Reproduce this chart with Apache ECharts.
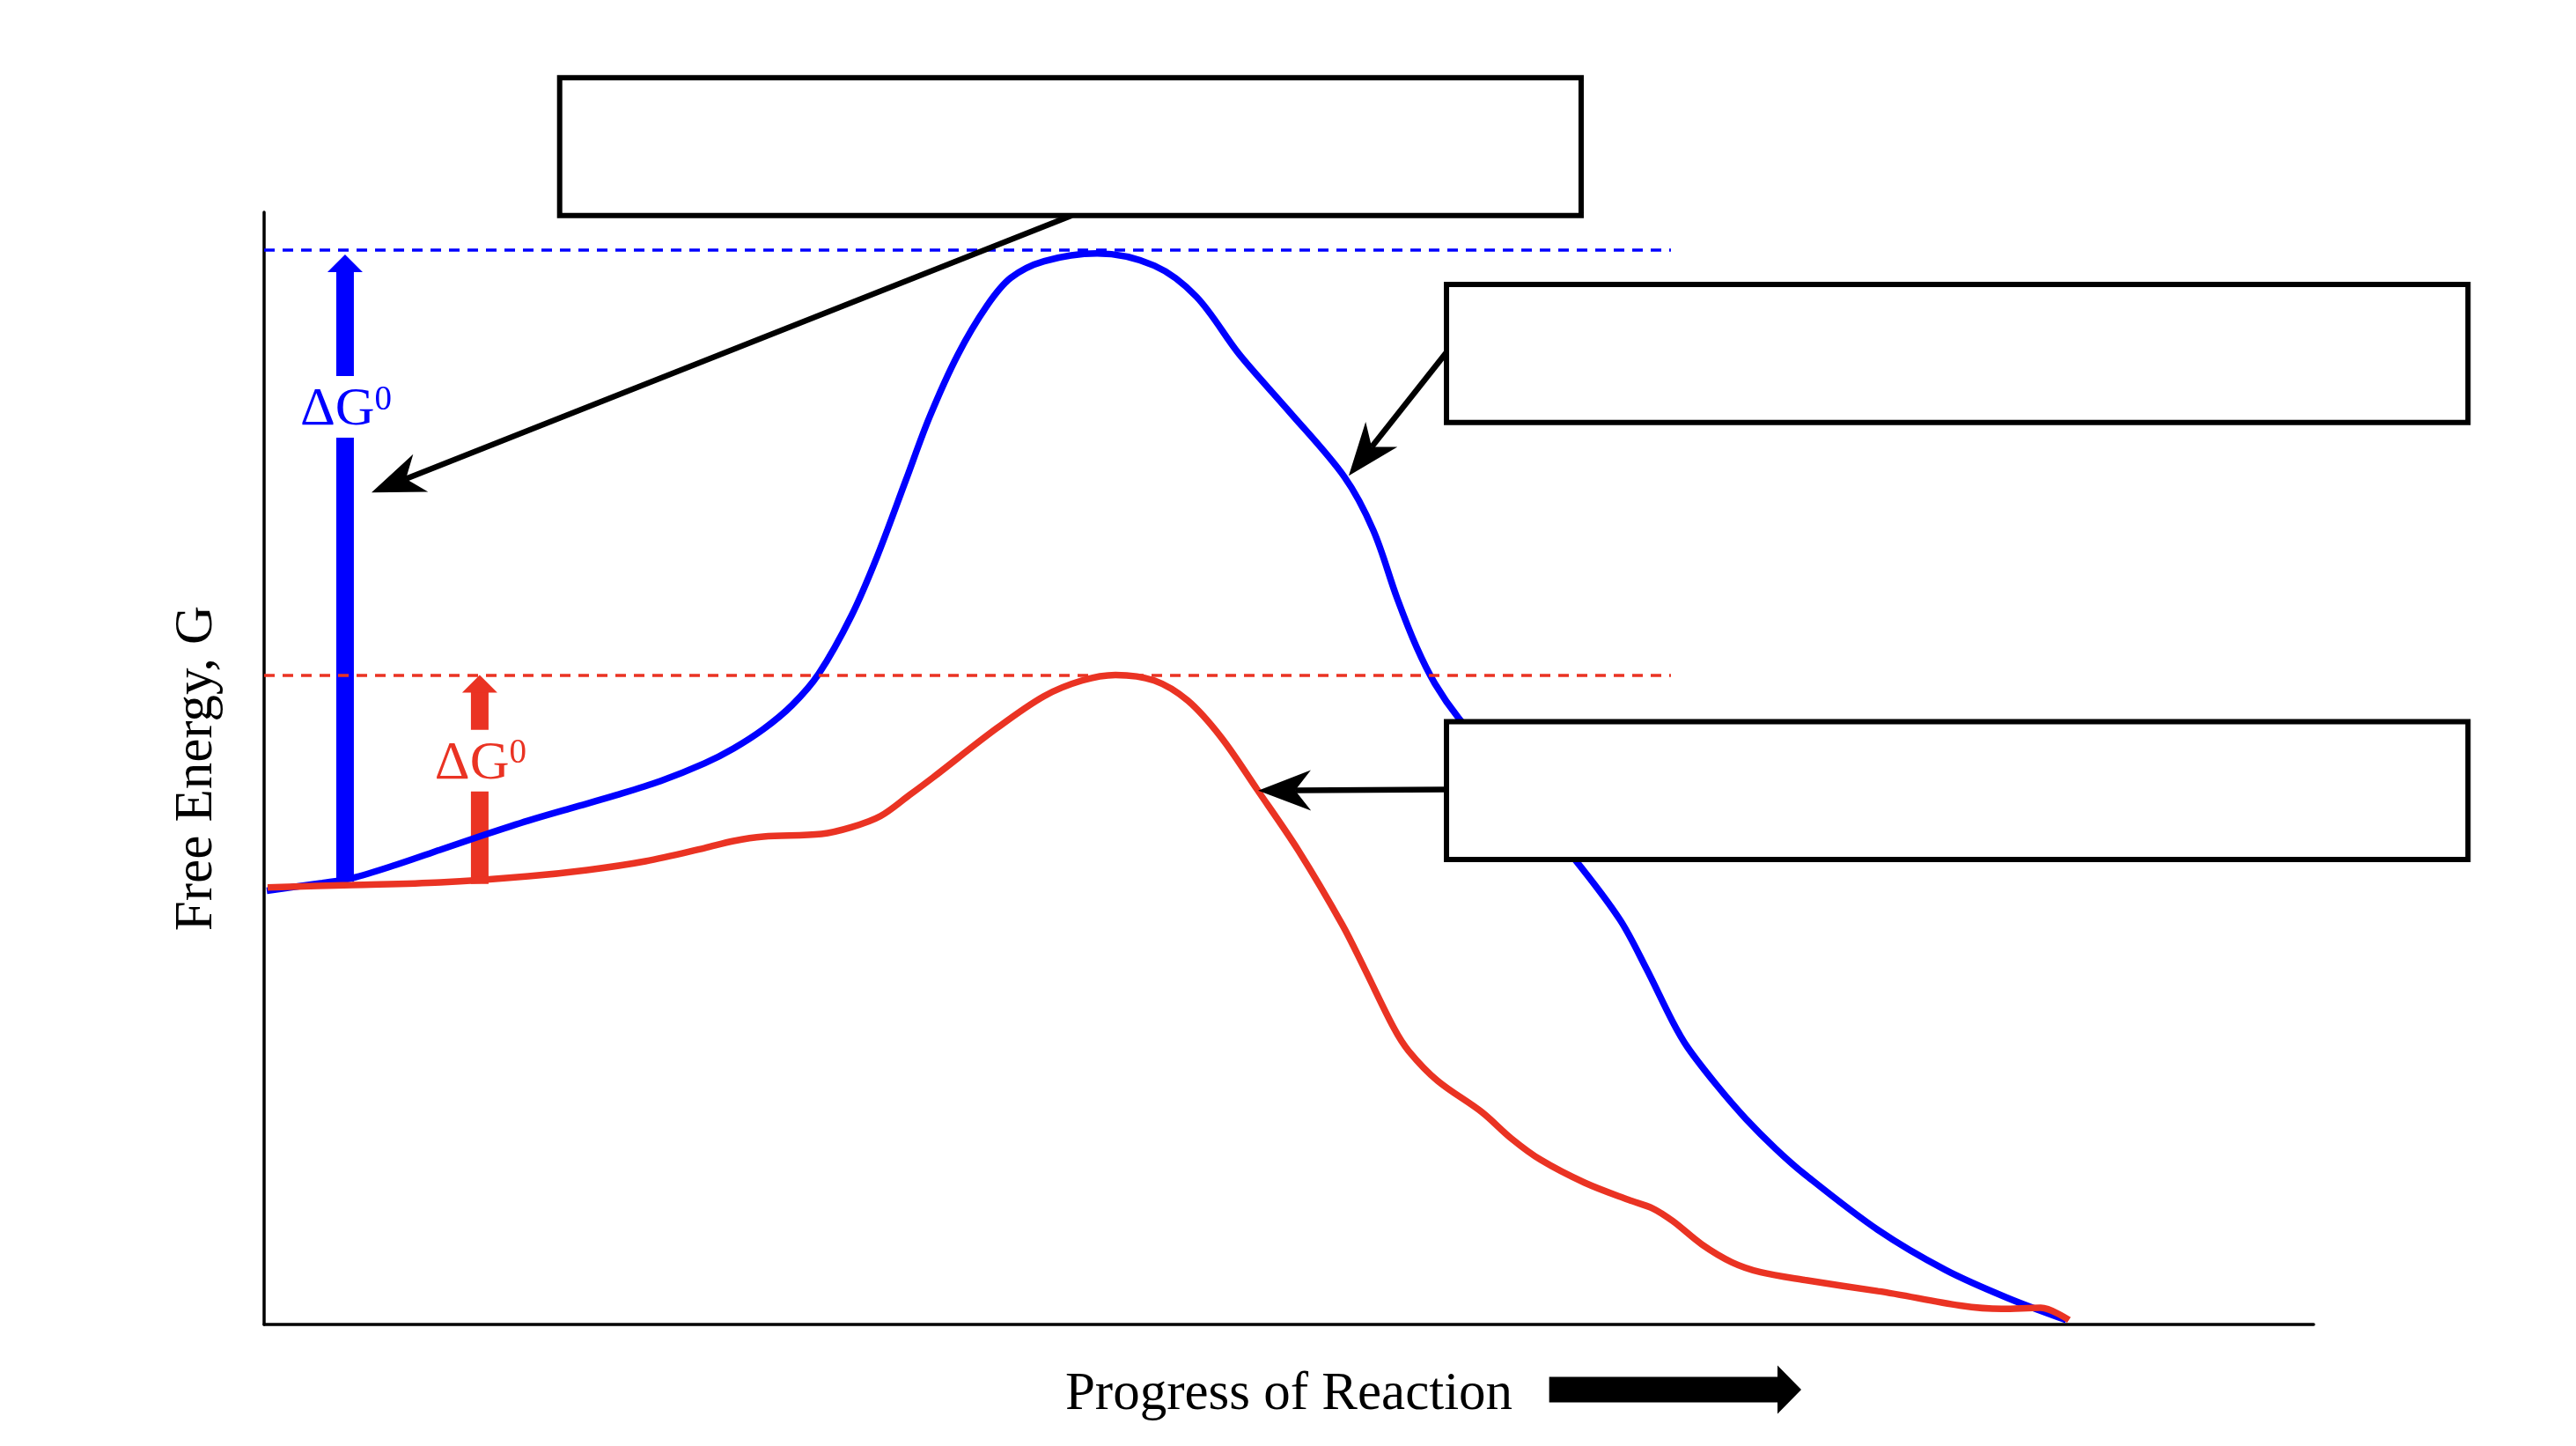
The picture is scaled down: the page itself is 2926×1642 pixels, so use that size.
<!DOCTYPE html>
<html>
<head>
<meta charset="utf-8">
<script src="https://cdn.jsdelivr.net/npm/echarts/dist/echarts.min.js"></script>
<style>
html,body{margin:0;padding:0;background:#ffffff;}
#chart{width:2926px;height:1642px;}
</style>
</head>
<body>
<div id="chart"></div>
<script>
// ---- Data (arbitrary units: progress 0-100, free energy 0-100) ----
const uncatalysedProgress = [0.13,2.84,4.30,6.44,8.59,10.74,12.89,15.03,17.18,19.33,21.48,22.90,24.36,25.77,27.06,28.65,29.90,31.31,32.47,33.85,35.27,36.43,38.06,40.64,43.43,45.49,47.59,49.91,52.71,54.12,55.28,56.23,57.13,58.29,63.96,66.15,67.44,68.73,69.46,70.88,72.29,73.75,75.17,78.74,82.04,85.05,87.93];
const uncatalysedEnergy   = [39.0,39.7,40.14,41.33,42.68,44.02,45.3,46.45,47.59,48.85,50.44,51.78,53.52,55.7,58.5,63.7,69.0,75.9,81.6,87.2,91.6,94.1,95.6,96.3,95.2,92.4,87.2,82.3,76.2,71.4,65.3,60.9,57.6,54.5,41.8,36.4,32.0,27.2,24.9,21.5,18.5,15.8,13.5,8.5,4.9,2.4,0.4];

const catalysedProgress = [0.17,4.30,8.59,12.89,15.76,18.60,21.48,22.90,24.36,27.19,28.65,30.07,31.49,32.65,35.74,38.06,39.91,41.54,43.43,45.06,46.69,48.45,50.47,52.62,53.69,55.11,55.84,57.26,59.41,60.87,62.29,64.43,66.58,67.74,68.73,70.15,71.61,73.02,75.17,78.74,84.79,86.68,88.06];
const catalysedEnergy   = [39.3,39.51,39.75,40.3,40.86,41.65,42.83,43.47,43.86,44.1,44.7,45.7,47.6,49.2,53.6,56.5,57.9,58.4,57.9,56.1,52.8,48.1,42.6,35.9,32.0,26.7,24.6,21.9,19.1,16.7,14.8,12.75,11.2,10.45,9.3,7.2,5.6,4.7,4.0,3.0,1.4,1.5,0.4];

// barrier levels (dashed lines) and where they stop along progress
const barrierLevels = [96.6, 58.4];
const barrierEnd = 68.64;

// ΔG arrows: [progress, from energy, to energy, label centre energy]
const deltaArrows = [
  [3.95, 39.8, 96.2, 82.5],
  [10.52, 39.6, 58.4, 50.7]
];

// empty label boxes: [progress left, progress right, energy top, energy bottom]
const labelBoxes = [
  [14.42, 64.26, 112.1, 99.7],
  [57.69, 107.53, 93.5, 81.1],
  [57.69, 107.53, 54.2, 41.8]
];

// pointer arrows: [from progress, from energy, to progress, to energy]
const pointerArrows = [
  [39.4, 99.7, 5.24, 74.8],
  [57.69, 87.4, 52.92, 76.3],
  [57.69, 48.1, 48.5, 48.0]
];

// big arrow next to the x-axis title: [start progress, tip progress, energy]
const progressArrow = [[62.7, 75.0, -5.86]];

const axisTitles = ['Progress of Reaction', 'Free Energy, G'];
const deltaLabel = ['ΔG', '0'];

// ---- Styles ----
const BLUE = '#0000FF';
const RED = '#EA3323';
const FONT = '"Liberation Serif", "Times New Roman", serif';
const deltaColors = [BLUE, RED];

function zip(a, b) { return a.map((v, i) => [v, b[i]]); }

function arrowHeadPts(tip, from, len, half, notch) {
  const dx = from[0] - tip[0], dy = from[1] - tip[1];
  const L = Math.hypot(dx, dy) || 1;
  const ux = dx / L, uy = dy / L, px = -uy, py = ux;
  return [
    [tip[0], tip[1]],
    [tip[0] + ux * len + px * half, tip[1] + uy * len + py * half],
    [tip[0] + ux * notch, tip[1] + uy * notch],
    [tip[0] + ux * len - px * half, tip[1] + uy * len - py * half]
  ];
}

const chart = echarts.init(document.getElementById('chart'), null, {renderer: 'canvas'});

const option = {
  backgroundColor: '#ffffff',
  animation: false,
  grid: {left: 300, right: 298, top: 241, bottom: 138, containLabel: false},
  xAxis: {
    type: 'value', min: 0, max: 100,
    name: axisTitles[0], nameLocation: 'middle', nameGap: 49,
    nameTextStyle: {fontFamily: FONT, fontSize: 61, color: '#000'},
    axisLine: {show: true, onZero: false, lineStyle: {color: '#000', width: 3.5}},
    axisTick: {show: false}, axisLabel: {show: false}, splitLine: {show: false}
  },
  yAxis: {
    type: 'value', min: 0, max: 100,
    name: axisTitles[1], nameLocation: 'middle', nameGap: 46, nameRotate: 90,
    nameTextStyle: {fontFamily: FONT, fontSize: 61, color: '#000'},
    axisLine: {show: true, lineStyle: {color: '#000', width: 3.5}},
    axisTick: {show: false}, axisLabel: {show: false}, splitLine: {show: false}
  },
  series: [
    {
      type: 'custom', z: 1, clip: false, silent: true,
      data: deltaArrows,
      renderItem: function (params, api) {
        const a = deltaArrows[params.dataIndex];
        const col = deltaColors[params.dataIndex];
        const b = api.coord([a[0], a[1]]);
        const t = api.coord([a[0], a[2]]);
        const l = api.coord([a[0], a[3]]);
        const headH = 20, headHalf = 20, shaftHalf = 10, gapHalf = 35;
        return {
          type: 'group',
          children: [
            {type: 'rect', shape: {x: t[0] - shaftHalf, y: t[1] + headH - 1, width: shaftHalf * 2, height: (l[1] - gapHalf) - (t[1] + headH - 1)}, style: {fill: col}},
            {type: 'rect', shape: {x: b[0] - shaftHalf, y: l[1] + gapHalf, width: shaftHalf * 2, height: b[1] - (l[1] + gapHalf)}, style: {fill: col}},
            {type: 'polygon', shape: {points: [[t[0], t[1]], [t[0] + headHalf, t[1] + headH], [t[0] - headHalf, t[1] + headH]]}, style: {fill: col}},
            {type: 'text', x: l[0] + 1, y: l[1] + 4,
              style: {
                text: '{d|' + deltaLabel[0] + '}{s|' + deltaLabel[1] + '}',
                align: 'center', verticalAlign: 'middle',
                rich: {
                  d: {fontFamily: FONT, fontSize: 62, fill: col},
                  s: {fontFamily: FONT, fontSize: 39, fill: col, verticalAlign: 'top'}
                }
              }}
          ]
        };
      }
    },
    {
      type: 'line', name: 'uncatalysed', z: 2,
      data: zip(uncatalysedProgress, uncatalysedEnergy),
      smooth: 0.33, symbol: 'none', silent: true,
      lineStyle: {color: BLUE, width: 7.5},
      markLine: {
        silent: true, symbol: 'none', label: {show: false},
        lineStyle: {color: BLUE, width: 3.5, type: [12, 9]},
        data: [[{coord: [0, barrierLevels[0]]}, {coord: [barrierEnd, barrierLevels[0]]}]]
      }
    },
    {
      type: 'line', name: 'catalysed', z: 3,
      data: zip(catalysedProgress, catalysedEnergy),
      smooth: 0.33, symbol: 'none', silent: true,
      lineStyle: {color: RED, width: 7.5},
      markLine: {
        silent: true, symbol: 'none', label: {show: false},
        lineStyle: {color: RED, width: 3.5, type: [12, 9]},
        data: [[{coord: [0, barrierLevels[1]]}, {coord: [barrierEnd, barrierLevels[1]]}]]
      }
    },
    {
      type: 'custom', z: 5, clip: false, silent: true,
      data: pointerArrows,
      renderItem: function (params, api) {
        const a = pointerArrows[params.dataIndex];
        const s = api.coord([a[0], a[1]]);
        const t = api.coord([a[2], a[3]]);
        const pts = arrowHeadPts(t, s, 60, 23, 42);
        return {
          type: 'group',
          children: [
            {type: 'line', shape: {x1: s[0], y1: s[1], x2: pts[2][0], y2: pts[2][1]}, style: {stroke: '#000', lineWidth: 6.5}},
            {type: 'polygon', shape: {points: pts}, style: {fill: '#000'}}
          ]
        };
      }
    },
    {
      type: 'custom', z: 6, clip: false, silent: true,
      data: labelBoxes,
      renderItem: function (params, api) {
        const b = labelBoxes[params.dataIndex];
        const p0 = api.coord([b[0], b[2]]);
        const p1 = api.coord([b[1], b[3]]);
        return {
          type: 'rect',
          shape: {x: p0[0], y: p0[1], width: p1[0] - p0[0], height: p1[1] - p0[1]},
          style: {fill: '#ffffff', stroke: '#000', lineWidth: 6}
        };
      }
    },
    {
      type: 'custom', z: 6, clip: false, silent: true,
      data: progressArrow,
      renderItem: function (params, api) {
        const a = progressArrow[params.dataIndex];
        const s = api.coord([a[0], a[2]]);
        const t = api.coord([a[1], a[2]]);
        const headLen = 27, headHalf = 27.5, shaftHalf = 14.5;
        const hx = t[0] - headLen;
        return {
          type: 'polygon',
          shape: {points: [
            [s[0], s[1] - shaftHalf], [hx, s[1] - shaftHalf], [hx, s[1] - headHalf],
            [t[0], t[1]], [hx, s[1] + headHalf], [hx, s[1] + shaftHalf], [s[0], s[1] + shaftHalf]
          ]},
          style: {fill: '#000'}
        };
      }
    }
  ]
};

chart.setOption(option);
</script>
</body>
</html>
